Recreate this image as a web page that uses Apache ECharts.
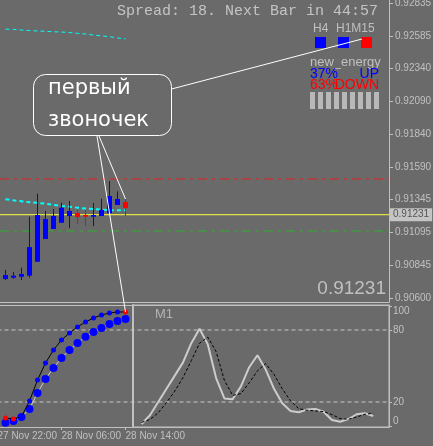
<!DOCTYPE html>
<html><head><meta charset="utf-8">
<script src="https://cdn.jsdelivr.net/npm/echarts@6/dist/echarts.min.js"></script>
<style>html,body{margin:0;padding:0;background:#6a6a6a;overflow:hidden}#c{width:433px;height:446px}</style>
</head><body><div id="c"></div>
<script>
// ---- data ----
const priceTicks = [0.92835,0.92585,0.92340,0.92090,0.91840,0.91590,0.91345,0.91095,0.90845,0.90600];
const timeLabels = ['27 Nov 22:00','28 Nov 06:00','28 Nov 14:00'];
const timeLabelBars = [0, 8, 16];
const haOpen  = [0.90744,0.90754,0.90761,0.90769,0.90875,0.91047,0.91123,0.91170,0.91221,0.91244,0.91229,0.91216,0.91221,0.91242,0.91305,0.91327];
const haClose = [0.90774,0.90769,0.90782,0.90986,0.91229,0.91198,0.91221,0.91284,0.91259,0.91214,0.91216,0.91229,0.91267,0.91373,0.91350,0.91282];
const haLow   = [0.90736,0.90746,0.90736,0.90754,0.90873,0.91047,0.91123,0.91170,0.91130,0.91161,0.91145,0.91145,0.91221,0.91242,0.91305,0.91221];
const haHigh  = [0.90812,0.90797,0.90830,0.91216,0.91390,0.91259,0.91274,0.91322,0.91335,0.91267,0.91267,0.91320,0.91352,0.91486,0.91408,0.91350];
const maSlow = [0.92637,0.92635,0.92630,0.92626,0.92623,0.92620,0.92617,0.92615,0.92611,0.92605,0.92600,0.92592,0.92586,0.92580,0.92570,0.92563];
const maFast = [0.91348,0.91340,0.91333,0.91325,0.91321,0.91314,0.91305,0.91297,0.91292,0.91284,0.91278,0.91274,0.91270,0.91265,0.91264,0.91264];
const levelUpper = 0.91502;
const levelLower = 0.91108;
const currentPrice = 0.91231;
const trendSlow = [2.8,4.2,7.5,14.2,27.5,39.2,48.3,56.7,63.3,69.2,74.4,78.3,81.7,85,87.5,89.2];
const trendFast = [6.7,5.8,7.8,20.8,38.3,52.5,63.3,71.7,77.5,82.5,86.7,90,92.5,94.2,95,95];
const trendFastState = ['dn','dn','up','up','up','up','up','up','up','up','up','up','up','up','up','dn'];
const oscLevels = [20, 80];
const oscTicks = [0, 20, 80, 100];
const m1Main   = [1.7,9,20,31,42,53,69,81,68,40,23,22.3,33,49,59,47,31,19,12.5,11.4,13.7,14.2,11.9,5,3.6,5.8,9.8,10.6,8.3];
const m1Signal = [3,5.5,11,19.5,29,40.5,54.5,69,74,62,38,25.5,27,36,46,52,43,31,21,14.4,13.1,12.6,12,9.5,6.2,5.6,7.5,9.8,10.6];
const tfNames = ['H4','H1','M15'];
const tfState = ['up','up','dn'];
const energyUp = 37, energyDown = 63;
const energyBars = 9;

// ---- style ----
const AX = '#c0c0c0', FONT = 'Liberation Sans';
const BLUE = '#0000ff', RED = '#ff0000';
const X0MIN = 0.3125, X0MAX = 48.9375;

const chart = echarts.init(document.getElementById('c'), null, {renderer:'canvas'});
const idx = a => a.map((v,i)=>[i+1, v]);
const hLine = (v, color, type, yi, xa, xb) => ({type:'line', xAxisIndex:0, yAxisIndex:yi, data:[[xa, v],[xb, v]], symbol:'none', silent:true, lineStyle:{color:color, width:1, type:type}, z:1});
const noAx = {axisLine:{show:false}, axisTick:{show:false}, axisLabel:{show:false}, splitLine:{show:false}};

chart.setOption({
  backgroundColor: '#6a6a6a',
  animation: false,
  textStyle: {fontFamily: FONT},
  grid: [
    {left:0, top:0, width:389, height:302, outerBoundsMode:'none', containLabel:false},
    {left:-2.5, top:305, width:391.5, height:122, outerBoundsMode:'none', containLabel:false},
    {left:133, top:305, width:256, height:122, outerBoundsMode:'none', containLabel:false, show:true, borderColor:AX, borderWidth:1, backgroundColor:'transparent'}
  ],
  xAxis: [
    {gridIndex:0, type:'value', min:X0MIN, max:X0MAX, axisLine:{show:true, onZero:false, lineStyle:{color:AX}}, axisTick:{show:false}, axisLabel:{show:false}, splitLine:{show:false}},
    {gridIndex:1, type:'value', min:0, max:48.9375, position:'bottom',
      axisLine:{show:true, onZero:false, lineStyle:{color:AX}},
      axisTick:{show:true, length:3, customValues:timeLabelBars, lineStyle:{color:AX}},
      axisLabel:{show:true, customValues:timeLabelBars, align:'left', margin:4, fontSize:10, color:AX,
        formatter: v => timeLabels[timeLabelBars.indexOf(v)] || ''},
      splitLine:{show:false}},
    Object.assign({gridIndex:1, type:'value', min:0, max:1, position:'top'}, noAx, {axisLine:{show:true, onZero:false, lineStyle:{color:AX}}}),
    Object.assign({gridIndex:2, type:'value', min:-1.05, max:29.906}, noAx)
  ],
  yAxis: [
    {gridIndex:0, type:'value', position:'right', min:0.905697, max:0.9285758,
      axisLine:{show:true, onZero:false, lineStyle:{color:AX}},
      axisTick:{show:true, length:4, customValues:priceTicks, lineStyle:{color:AX}},
      axisLabel:{show:true, customValues:priceTicks, margin:6, fontSize:10, color:AX, formatter: v => v.toFixed(5)},
      splitLine:{show:false}},
    {gridIndex:1, type:'value', position:'right', min:-0.83, max:100.83,
      axisLine:{show:true, onZero:false, lineStyle:{color:AX}},
      axisTick:{show:true, length:3, customValues:oscTicks, lineStyle:{color:AX}},
      axisLabel:{show:true, customValues:oscTicks, margin:4, fontSize:10, color:AX,
        formatter: v => v===100 ? '{t|100}' : (v===0 ? '{b|0}' : String(v)),
        rich:{t:{padding:[11,0,0,0], fontSize:10, color:AX}, b:{padding:[0,0,10,0], fontSize:10, color:AX}}},
      splitLine:{show:false}},
    Object.assign({gridIndex:2, type:'value', position:'left', min:-0.83, max:100.83}, noAx,
      {axisLine:{show:true, onZero:false, lineStyle:{color:AX, width:2}}}),
    Object.assign({gridIndex:0, type:'value', position:'right', min:0.905697, max:0.9285758}, noAx,
      {axisLabel:{show:true, customValues:[currentPrice], margin:1, fontSize:10, color:'#555555', backgroundColor:'#c4c4c4', padding:[2,3,1,3], formatter: v => v.toFixed(5)}})
  ],
  series: [
    {type:'custom', xAxisIndex:0, yAxisIndex:0, clip:true, z:3,
      data: haOpen.map((o,i)=>[i+1, o, haClose[i], haLow[i], haHigh[i]]),
      encode:{x:0, y:[1,2,3,4]},
      renderItem: function(params, api){
        const k=api.value(0), o=api.value(1), c=api.value(2), l=api.value(3), h=api.value(4);
        const po=api.coord([k,o]), pc=api.coord([k,c]), pl=api.coord([k,l]), ph=api.coord([k,h]);
        const col = c>=o ? BLUE : RED;
        const x = po[0];
        const top=Math.min(po[1],pc[1]), bot=Math.max(po[1],pc[1]);
        return {type:'group', children:[
          {type:'line', shape:{x1:x, y1:ph[1], x2:x, y2:pl[1]}, style:{stroke:col, lineWidth:1}},
          {type:'rect', shape:{x:x-2.5, y:top, width:5, height:Math.max(bot-top,1.5)}, style:{fill:col}}
        ]};
      }},
    {type:'line', xAxisIndex:0, yAxisIndex:0, data:idx(maSlow), symbol:'none', lineStyle:{color:'#00ffff', width:1, type:[4,3]}, z:2},
    {type:'line', xAxisIndex:0, yAxisIndex:0, data:idx(maFast), symbol:'none', lineStyle:{color:'#00ffff', width:2, type:[4,3]}, z:2},
    hLine(levelUpper, '#e02020', [9,5,3,5], 0, X0MIN, X0MAX),
    hLine(levelLower, '#30b030', [9,5,3,5], 0, X0MIN, X0MAX),
    hLine(currentPrice, '#ffff40', 'solid', 0, X0MIN, X0MAX),
    {type:'line', xAxisIndex:1, yAxisIndex:1, data:idx(trendSlow), symbol:'circle', symbolSize:8, showAllSymbol:true,
      lineStyle:{color:'#d0d0d0', width:1}, itemStyle:{color:BLUE}, z:3},
    {type:'line', xAxisIndex:1, yAxisIndex:1, symbol:'circle', symbolSize:5, showAllSymbol:true, z:4,
      data: trendFast.map((v,i)=>({value:[i+1,v], itemStyle:{color: trendFastState[i]==='dn'?RED:BLUE}})),
      lineStyle:{color:'#000000', width:1}, itemStyle:{color:BLUE}},
    {type:'line', xAxisIndex:1, yAxisIndex:1, data:[[0,oscLevels[1]],[48.9375,oscLevels[1]]], symbol:'none', silent:true, lineStyle:{color:'#c8c8c8', width:1, type:[4,3]}, z:1},
    {type:'line', xAxisIndex:1, yAxisIndex:1, data:[[0,oscLevels[0]],[48.9375,oscLevels[0]]], symbol:'none', silent:true, lineStyle:{color:'#c8c8c8', width:1, type:[4,3]}, z:1},
    {type:'line', xAxisIndex:3, yAxisIndex:2, data:m1Main.map((v,i)=>[i,v]), symbol:'none', lineStyle:{color:'#cccccc', width:2}, z:3},
    {type:'line', xAxisIndex:3, yAxisIndex:2, data:m1Signal.map((v,i)=>[i,v]), symbol:'none', lineStyle:{color:'#000000', width:1, type:[3,2]}, z:4}
  ]
});

// ---- annotations ----
const pCandle = chart.convertToPixel({seriesIndex:0}, [16, haHigh[15]]);
const pDot = chart.convertToPixel({seriesIndex:7}, [16, trendFast[15]]);
const g = [];
g.push({type:'text', x:378, y:11, style:{text:'Spread: 18. Next Bar in 44:57', fill:'#c4c4c4', font:'15px "Liberation Mono"', textAlign:'right', textVerticalAlign:'middle'}});
g.push({type:'text', x:313, y:29, style:{text:tfNames[0], fill:'#c0c0c0', font:'12px "Liberation Sans"', textAlign:'left', textVerticalAlign:'middle'}});
g.push({type:'text', x:336, y:29, style:{text:tfNames[1]+tfNames[2], fill:'#c0c0c0', font:'12px "Liberation Sans"', textAlign:'left', textVerticalAlign:'middle'}});
[315, 338, 361].forEach((x,i)=>g.push({type:'rect', shape:{x:x, y:37, width:11, height:11}, style:{fill: tfState[i]==='up'?BLUE:RED}}));
g.push({type:'text', x:310, y:62, style:{text:'new_energy', fill:'#c0c0c0', font:'13px "Liberation Sans"', textAlign:'left', textVerticalAlign:'middle'}});
g.push({type:'text', x:310, y:74.5, style:{text:energyUp+'%', fill:BLUE, font:'14px "Liberation Sans"', textAlign:'left', textVerticalAlign:'middle'}});
g.push({type:'text', x:379, y:74.5, style:{text:'UP', fill:BLUE, font:'14px "Liberation Sans"', textAlign:'right', textVerticalAlign:'middle'}});
g.push({type:'text', x:310, y:85.5, style:{text:energyDown+'%', fill:RED, font:'14px "Liberation Sans"', textAlign:'left', textVerticalAlign:'middle'}});
g.push({type:'text', x:379, y:85.5, style:{text:'DOWN', fill:RED, font:'14px "Liberation Sans"', textAlign:'right', textVerticalAlign:'middle'}});
for (let i=0;i<energyBars;i++) g.push({type:'rect', shape:{x:310+8*i, y:92, width:5, height:17}, style:{fill:'#b8b8b8'}});
g.push({type:'text', x:386, y:289, style:{text:currentPrice.toFixed(5), fill:'#c0c0c0', font:'19px "Liberation Sans"', textAlign:'right', textVerticalAlign:'middle'}});
g.push({type:'text', x:155, y:314, style:{text:'M1', fill:'#b4b4b4', font:'13px "Liberation Sans"', textAlign:'left', textVerticalAlign:'middle'}});
g.push({type:'rect', shape:{x:33.5, y:74.5, width:138, height:61, r:12}, style:{fill:'none', stroke:'#ffffff', lineWidth:1}});
g.push({type:'text', x:48, y:89, style:{text:'первый', fill:'#ffffff', font:'21px "DejaVu Sans"', textAlign:'left', textVerticalAlign:'middle'}});
g.push({type:'text', x:48, y:121, style:{text:'звоночек', fill:'#ffffff', font:'21px "DejaVu Sans"', textAlign:'left', textVerticalAlign:'middle'}});
g.push({type:'line', shape:{x1:171.5, y1:89, x2:362, y2:39}, style:{stroke:'#ffffff', lineWidth:1}});
g.push({type:'line', shape:{x1:97, y1:136, x2:pDot[0], y2:pDot[1]}, style:{stroke:'#ffffff', lineWidth:1}});
g.push({type:'line', shape:{x1:99, y1:136, x2:pCandle[0], y2:pCandle[1]}, style:{stroke:'#ffffff', lineWidth:1}});
chart.setOption({graphic:{elements:g.map(e=>Object.assign({z:100}, e))}});
</script></body></html>
